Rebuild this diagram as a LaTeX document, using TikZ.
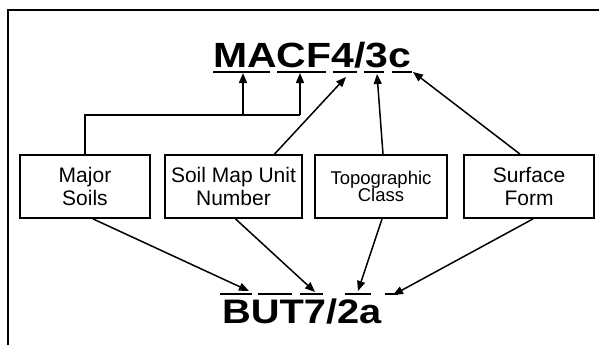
\documentclass[tikz,border=0pt]{standalone}
\usepackage{fontspec}
\setmainfont{Liberation Sans}
\usetikzlibrary{arrows.meta}
\begin{document}
\begin{tikzpicture}[x=1pt,y=-1pt,
  box/.style={draw,line width=1.8pt,minimum width=#1,minimum height=63pt,inner sep=0pt,align=center,font=\fontsize{21}{23}\selectfont},
  conn/.style={line width=1.5pt},
  arr/.style={conn,-{Triangle[length=10pt,width=8pt]}},
  frame/.style={line width=1.8pt},
  seg/.style={line width=1.6pt},
  title/.style={inner sep=0pt,anchor=base west}]
\useasboundingbox (0,0) rectangle (599,345);
% frame
\draw[frame] (8,345) -- (8,10) -- (599,10);
% titles
\node[title] (top) at (213,67) {\scalebox{1.17}[1]{\fontsize{35}{35}\selectfont\bfseries MACF4/3c}};
\node[title] (bot) at (222,323) {\scalebox{1.17}[1]{\fontsize{34}{34}\selectfont\bfseries BUT7/2a}};
% underline segments of MACF4/3c
\foreach \a/\b in {213/270,277/326,333/357,364/384,392/412}
  \draw[seg] (\a,72) -- (\b,72);
% overline segments of BUT7/2a
\foreach \a/\b in {220/252,258/292,300/323,345/371,385/398}
  \draw[seg] (\a,294) -- (\b,294);
% boxes
\node[box=130pt] (major) at (85,186.5) {Major\\Soils};
\node[box=137pt] (soil) at (233.5,186.5) {Soil Map Unit\\Number};
\node[box=132pt,font=\fontsize{18.5}{17.5}\selectfont] (topo) at (381,186.5) {Topographic\\Class};
\node[box=130pt] (surf) at (529,186.5) {Surface\\Form};
% target points
\coordinate (tMA) at (243,73);
\coordinate (tCF) at (300,73);
\coordinate (t4) at (346,77);
\coordinate (t3) at (377,74);
\coordinate (tc) at (413,72);
\coordinate (j1) at (243,115);
\coordinate (j2) at (300,115);
\coordinate (b1) at (249,291);
\coordinate (b2) at (315,292);
\coordinate (b3) at (358,291);
\coordinate (b4) at (393,295);
% upper connectors
\draw[conn] (major.north) |- (j2);
\draw[arr] (j1) -- (tMA);
\draw[arr] (j2) -- (tCF);
\draw[arr] ([xshift=41pt]soil.north) -- (t4);
\draw[arr] ([xshift=2pt]topo.north) -- (t3);
\draw[arr] ([xshift=-9pt]surf.north) -- (tc);
% lower connectors
\draw[arr] ([xshift=8pt]major.south) -- (b1);
\draw[arr] ([xshift=2pt]soil.south) -- (b2);
\draw[arr] ([xshift=1pt]topo.south) -- (b3);
\draw[arr] ([xshift=4pt]surf.south) -- (b4);
\end{tikzpicture}
\end{document}
